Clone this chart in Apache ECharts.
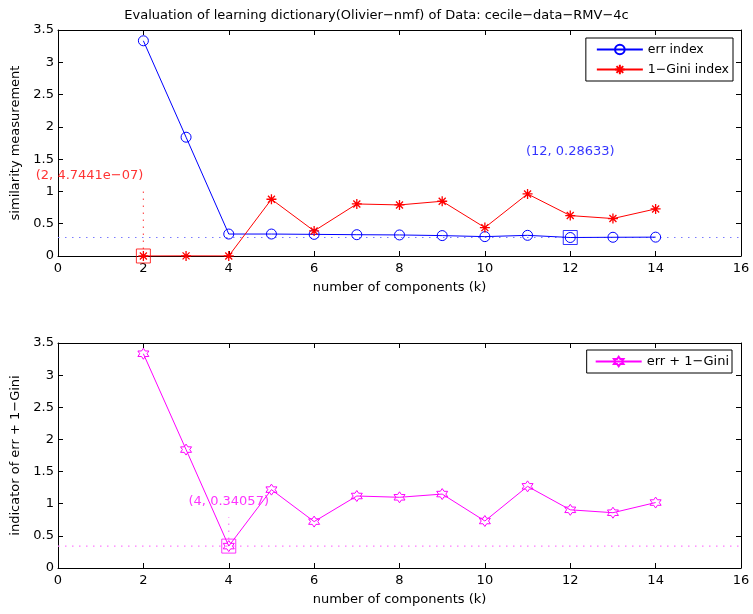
<!DOCTYPE html>
<html>
<head>
<meta charset="utf-8">
<script src="https://cdn.jsdelivr.net/npm/echarts@6/dist/echarts.min.js"></script>
<style>html,body{margin:0;padding:0;background:#fff}#c{width:753px;height:614px}</style>
</head>
<body>
<div id="c"></div>
<script>
// ---- data ----
const kValues   = [2, 3, 4, 5, 6, 7, 8, 9, 10, 11, 12, 13, 14];
const errIndex  = [3.333, 1.840, 0.340, 0.340, 0.335, 0.330, 0.326, 0.316, 0.300, 0.320, 0.28633, 0.290, 0.292];
const giniIndex = [4.7441e-7, 0.0015, 0.0006, 0.879, 0.388, 0.806, 0.791, 0.848, 0.440, 0.961, 0.626, 0.580, 0.729];
const combined  = [3.333, 1.842, 0.34057, 1.219, 0.722, 1.120, 1.100, 1.150, 0.731, 1.270, 0.905, 0.860, 1.018];
const errMin    = [12, 0.28633];
const giniMin   = [2, 4.7441e-7];
const combMin   = [4, 0.34057];
const giniLabelY = 1.24;
const giniStemTop = 1.0;
const errLabelY = 1.62;
const combLabelY = 1.03;
const combStemTop = 0.79;
const xRange = [0, 16];
const yRange = [0, 3.5];
const titleText = 'Evaluation of learning dictionary(Olivier\u2212nmf) of Data: cecile\u2212data\u2212RMV\u22124c';

const pairs = (xs, ys) => xs.map((x, i) => [x, ys[i]]);
const FONT = 'DejaVu Sans, sans-serif';
const BLUE = '#0000ff', RED = '#ff0000', MAG = '#ff00ff';

// marker paths
const asterisk = 'path://M0,-1L0,1M-1,0L1,0M-0.7,-0.7L0.7,0.7M-0.7,0.7L0.7,-0.7';
const hexPts = [];
for (let i = 0; i < 12; i++) {
  const a = (-90 + i * 30) * Math.PI / 180;
  const r = i % 2 === 0 ? 1 : 0.577;
  hexPts.push((r * Math.cos(a)).toFixed(3) + ',' + (r * Math.sin(a)).toFixed(3));
}
const hexagram = 'path://M' + hexPts.join('L') + 'Z';

const grids = [
  {left: 58, right: 12, top: 30, height: 226},
  {left: 58, right: 12, top: 343, height: 225}
];

function axesFor(gi, yName) {
  const common = {
    gridIndex: gi, type: 'value', splitLine: {show: false},
    axisLine: {show: true, onZero: false, lineStyle: {color: '#000', width: 1}},
    axisTick: {show: true, inside: true, length: 5, lineStyle: {color: '#000'}}
  };
  const x = [
    Object.assign({}, common, {min: xRange[0], max: xRange[1], interval: 2, position: 'bottom',
      axisLabel: {color: '#000', fontSize: 13, fontFamily: FONT, margin: 6},
      name: 'number of components (k)', nameLocation: 'middle', nameGap: 25,
      nameTextStyle: {color: '#000', fontSize: 13, fontFamily: FONT}}),
    Object.assign({}, common, {min: xRange[0], max: xRange[1], interval: 2, position: 'top',
      axisLabel: {show: false}})
  ];
  const y = [
    Object.assign({}, common, {min: yRange[0], max: yRange[1], interval: 0.5, position: 'left',
      axisLabel: {color: '#000', fontSize: 13, fontFamily: FONT, margin: 4},
      name: yName, nameLocation: 'middle', nameGap: 32,
      nameTextStyle: {color: '#000', fontSize: 13, fontFamily: FONT}}),
    Object.assign({}, common, {min: yRange[0], max: yRange[1], interval: 0.5, position: 'right',
      axisLabel: {show: false}})
  ];
  return {x, y};
}
const a0 = axesFor(0, 'similarity measurement');
const a1 = axesFor(1, 'indicator of err + 1\u2212Gini');
const xAxes = [...a0.x, ...a1.x];   // 0,1 top grid; 2,3 bottom grid
const yAxes = [...a0.y, ...a1.y];

const dotted = (color, data, xi, yi) => ({
  type: 'line', xAxisIndex: xi, yAxisIndex: yi, data, symbol: 'none', silent: true,
  itemStyle: {color},
  lineStyle: {color, width: 1.2, type: [1.5, 5.5]}, z: 1
});
const square = (color, pt, xi, yi) => ({
  type: 'scatter', xAxisIndex: xi, yAxisIndex: yi, data: [pt], symbol: 'rect', symbolSize: 14,
  itemStyle: {color: 'rgba(0,0,0,0)', borderColor: color, borderWidth: 1}, z: 4, silent: true
});
const textAt = (color, pt, text, align, xi, yi) => ({
  type: 'scatter', xAxisIndex: xi, yAxisIndex: yi, data: [pt], symbolSize: 0, silent: true,
  label: {show: true, position: 'inside', formatter: text, color, fontSize: 13, fontFamily: FONT,
    align: align, verticalAlign: 'middle'}, z: 5
});

const option = {
  backgroundColor: '#fff',
  animation: false,
  title: {text: titleText, left: 'center', top: 4,
    textStyle: {fontSize: 13, fontWeight: 'normal', color: '#000', fontFamily: FONT}},
  grid: grids,
  xAxis: xAxes,
  yAxis: yAxes,
  legend: [
    {data: ['err index', '1\u2212Gini index'], orient: 'vertical', right: 20, top: 38,
      backgroundColor: '#fff', borderColor: '#000', borderWidth: 1, padding: [5, 4, 5, 10],
      itemWidth: 46, itemHeight: 12, itemGap: 7, selectedMode: false,
      textStyle: {color: '#000', fontSize: 12.5, fontFamily: FONT}},
    {data: ['err + 1\u2212Gini'], orient: 'vertical', right: 21, top: 350,
      backgroundColor: '#fff', borderColor: '#000', borderWidth: 1, padding: [5, 3, 5, 8],
      itemWidth: 46, itemHeight: 12, selectedMode: false,
      textStyle: {color: '#000', fontSize: 13, fontFamily: FONT}}
  ],
  series: [
    dotted('#7a7aff', [[xRange[0], errMin[1]], [xRange[1], errMin[1]]], 0, 0),
    dotted('#ff5a5a', [[giniMin[0], giniMin[1]], [giniMin[0], giniStemTop]], 0, 0),
    {name: 'err index', type: 'line', xAxisIndex: 0, yAxisIndex: 0, data: pairs(kValues, errIndex),
      symbol: 'circle', symbolSize: 10, lineStyle: {color: BLUE, width: 1},
      itemStyle: {color: 'rgba(0,0,0,0)', borderColor: BLUE, borderWidth: 1}, z: 3},
    {name: '1\u2212Gini index', type: 'line', xAxisIndex: 0, yAxisIndex: 0, data: pairs(kValues, giniIndex),
      symbol: asterisk, symbolSize: 10, lineStyle: {color: RED, width: 1},
      itemStyle: {color: RED, borderColor: RED, borderWidth: 1.3}, z: 3},
    square(BLUE, errMin, 0, 0),
    square(RED, giniMin, 0, 0),
    textAt(BLUE, [errMin[0], errLabelY], '(12, 0.28633)', 'center', 0, 0),
    textAt(RED, [giniMin[0], giniLabelY], '(2, 4.7441e\u221207)', 'right', 0, 0),

    dotted('#ff7aff', [[xRange[0], combMin[1]], [xRange[1], combMin[1]]], 2, 2),
    dotted('#ff7aff', [[combMin[0], combMin[1]], [combMin[0], combStemTop]], 2, 2),
    {name: 'err + 1\u2212Gini', type: 'line', xAxisIndex: 2, yAxisIndex: 2, data: pairs(kValues, combined),
      symbol: hexagram, symbolSize: 11, lineStyle: {color: MAG, width: 1},
      itemStyle: {color: 'rgba(0,0,0,0)', borderColor: MAG, borderWidth: 1}, z: 3},
    square(MAG, combMin, 2, 2),
    textAt(MAG, [combMin[0], combLabelY], '(4, 0.34057)', 'center', 2, 2)
  ]
};
const chart = echarts.init(document.getElementById('c'), null, {renderer: 'canvas'});
chart.setOption(option);
</script>
</body>
</html>
